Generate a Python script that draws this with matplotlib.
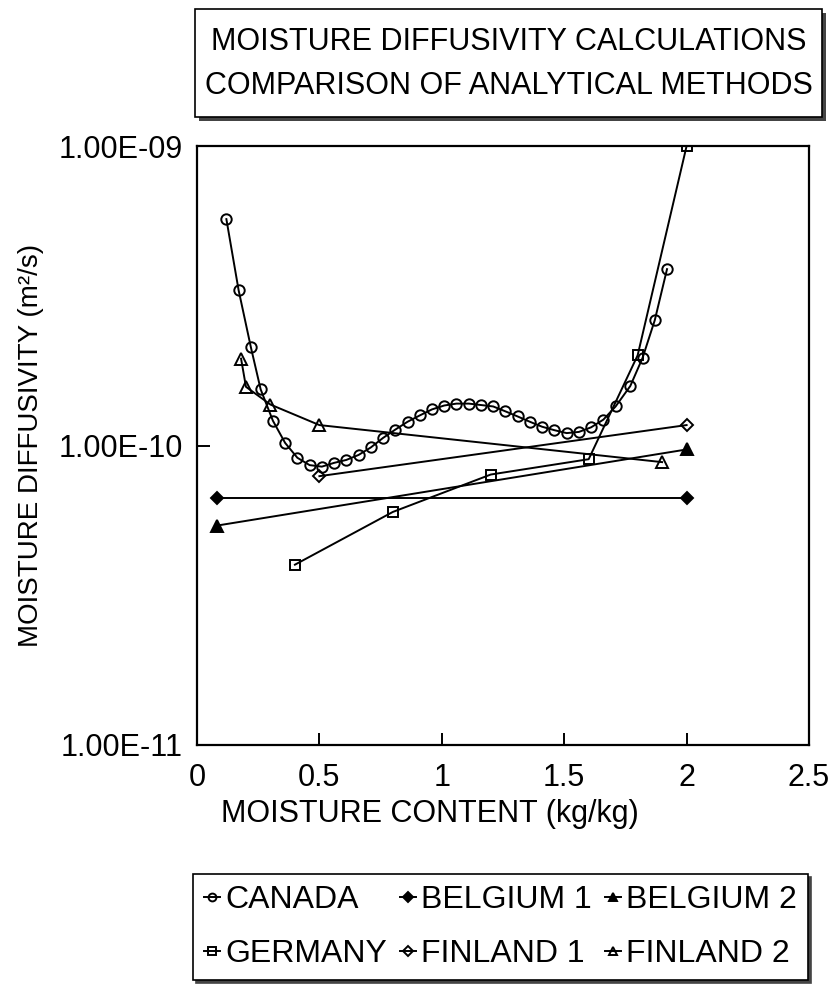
import matplotlib
matplotlib.use("Agg")
import matplotlib.pyplot as plt
from matplotlib.ticker import FixedLocator, FuncFormatter, NullLocator
from matplotlib.patches import Rectangle

plt.rcParams['font.family'] = ['Liberation Sans', 'DejaVu Sans']

# ---- data ----
canada_x = [0.12, 0.17, 0.22, 0.26, 0.31, 0.36, 0.41, 0.46, 0.51, 0.56, 0.61, 0.66,
            0.71, 0.76, 0.81, 0.86, 0.91, 0.96, 1.01, 1.06, 1.11, 1.16, 1.21, 1.26,
            1.31, 1.36, 1.41, 1.46, 1.51, 1.56, 1.61, 1.66, 1.71, 1.77, 1.82, 1.87, 1.92]
canada_y = [5.7e-10, 3.3e-10, 2.13e-10, 1.54e-10, 1.21e-10, 1.02e-10, 9.1e-11, 8.6e-11,
            8.5e-11, 8.75e-11, 8.95e-11, 9.3e-11, 9.85e-11, 1.06e-10, 1.13e-10, 1.2e-10,
            1.26e-10, 1.32e-10, 1.36e-10, 1.38e-10, 1.38e-10, 1.365e-10, 1.35e-10, 1.30e-10,
            1.25e-10, 1.20e-10, 1.155e-10, 1.125e-10, 1.10e-10, 1.11e-10, 1.15e-10, 1.22e-10,
            1.35e-10, 1.58e-10, 1.96e-10, 2.62e-10, 3.88e-10]
germany_x = [0.4, 0.8, 1.2, 1.6, 1.8, 2.0]
germany_y = [4.0e-11, 6.0e-11, 8.0e-11, 9.0e-11, 2.0e-10, 1.0e-9]
belgium1_x = [0.08, 2.0]
belgium1_y = [6.7e-11, 6.7e-11]
belgium2_x = [0.08, 2.0]
belgium2_y = [5.4e-11, 9.7e-11]
finland1_x = [0.5, 2.0]
finland1_y = [7.9e-11, 1.17e-10]
finland2_x = [0.18, 0.2, 0.3, 0.5, 1.9]
finland2_y = [1.95e-10, 1.57e-10, 1.37e-10, 1.17e-10, 8.8e-11]

x_ticks = [0, 0.5, 1, 1.5, 2, 2.5]
y_ticks = [1e-11, 1e-10, 1e-9]
y_tick_labels = ["1.00E-11", "1.00E-10", "1.00E-09"]

title_lines = ["MOISTURE DIFFUSIVITY CALCULATIONS", "COMPARISON OF ANALYTICAL METHODS"]
x_label = "MOISTURE CONTENT (kg/kg)"
y_label = "MOISTURE DIFFUSIVITY (m²/s)"

# ---- figure ----
W, H = 831, 986
fig = plt.figure(figsize=(W / 100, H / 100), dpi=100)
ax = fig.add_axes([197 / W, 1 - 745 / H, (809 - 197) / W, (745 - 146) / H])

lw = 1.4
kw = dict(color='black', lw=lw, markeredgecolor='black', markeredgewidth=1.4)
l_can, = ax.plot(canada_x, canada_y, marker='o', ms=7.5, mfc='none', label='CANADA', **kw)
l_ger, = ax.plot(germany_x, germany_y, marker='s', ms=7.5, mfc='none', label='GERMANY', **kw)
l_b1, = ax.plot(belgium1_x, belgium1_y, marker='D', ms=6.5, mfc='black', label='BELGIUM 1', **kw)
l_f1, = ax.plot(finland1_x, finland1_y, marker='D', ms=6.5, mfc='none', label='FINLAND 1', **kw)
l_b2, = ax.plot(belgium2_x, belgium2_y, marker='^', ms=8, mfc='black', label='BELGIUM 2', **kw)
l_f2, = ax.plot(finland2_x, finland2_y, marker='^', ms=8, mfc='none', label='FINLAND 2', **kw)

ax.set_yscale('log')
ax.set_xlim(0, 2.5)
ax.set_ylim(1e-11, 1e-9)
ax.xaxis.set_major_locator(FixedLocator(x_ticks))
ax.xaxis.set_major_formatter(FuncFormatter(lambda v, p: f"{v:g}"))
ax.yaxis.set_major_locator(FixedLocator(y_ticks))
ax.yaxis.set_major_formatter(FuncFormatter(
    lambda v, p: y_tick_labels[y_ticks.index(min(y_ticks, key=lambda t: abs(t - v)))]))
ax.yaxis.set_minor_locator(NullLocator())
ax.tick_params(axis='both', direction='in', length=9, width=1.4, labelsize=22)
ax.tick_params(axis='x', pad=13)
ax.tick_params(axis='y', pad=10)
for s in ax.spines.values():
    s.set_linewidth(1.6)

ax.set_xlabel(x_label, fontsize=22)
ax.xaxis.set_label_coords(0.38, -0.09)
ax.set_ylabel(y_label, fontsize=20)
ax.yaxis.set_label_coords(-0.25, 0.5)

# ---- title box ----
tx0, tx1, ty0, ty1 = 195 / W, 822 / W, 1 - 117 / H, 1 - 9 / H
fig.patches.append(Rectangle((tx0 + 4 / W, ty0 - 4 / H), tx1 - tx0, ty1 - ty0, transform=fig.transFigure,
                             facecolor='#444444', edgecolor='none', zorder=0))
fig.patches.append(Rectangle((tx0, ty0), tx1 - tx0, ty1 - ty0, transform=fig.transFigure,
                             facecolor='white', edgecolor='black', lw=1.2, zorder=1))
fig.text((tx0 + tx1) / 2, 1 - 42 / H, title_lines[0], ha='center', va='center', fontsize=22, zorder=2)
fig.text((tx0 + tx1) / 2, 1 - 86 / H, title_lines[1], ha='center', va='center', fontsize=22, zorder=2)

# ---- legend ----
handles = [l_can, l_ger, l_b1, l_f1, l_b2, l_f2]
leg = fig.legend(handles=handles, labels=[h.get_label() for h in handles], ncol=3,
                 loc='upper left', bbox_to_anchor=(193 / W, 1 - 984 / H, 615 / W, 110 / H),
                 mode='expand', borderaxespad=0, fontsize=23,
                 frameon=True, fancybox=False, shadow={'color': '#444444', 'alpha': 1},
                 edgecolor='black', handlelength=0.5, handletextpad=0.15, columnspacing=0.3,
                 borderpad=0.35, labelspacing=0.75, markerscale=0.75)
leg.get_frame().set_linewidth(1.2)

fig.savefig('out.png', dpi=100)
